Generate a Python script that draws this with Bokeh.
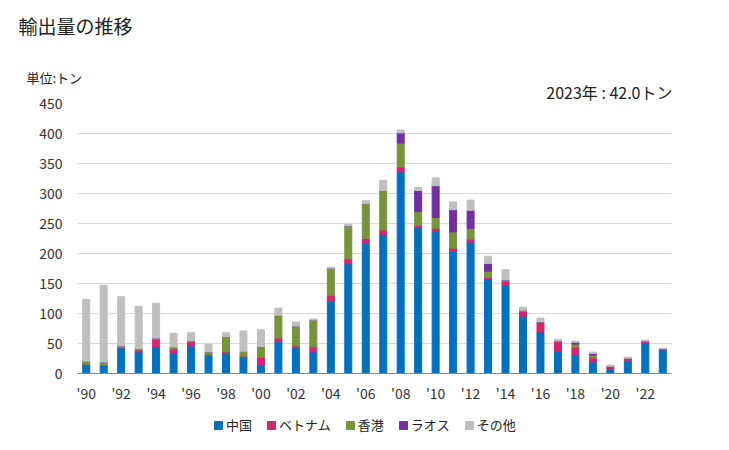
from bokeh.plotting import figure
from bokeh.layouts import column
from bokeh.models import ColumnDataSource, Title, Legend, LegendItem, FixedTicker
from bokeh.embed import file_html
from bokeh.resources import INLINE

years = list(range(1990, 2024))
china   = [15.5, 14, 43, 36, 44, 34, 46, 30, 33, 27, 14, 53, 43, 36, 120.5, 183, 217, 232, 336, 243, 237, 204, 219, 157, 147, 95.5, 69, 37, 32, 19, 7, 22, 50.5, 39.5]
vietnam = [0, 0, 0, 3, 13, 7, 7, 2, 3, 2, 13, 6, 3, 8, 10, 8, 8, 7, 8, 4, 5, 5, 5, 3.5, 7, 8, 17, 17, 12, 7, 5, 3.5, 3.5, 1.5]
hongkong = [5, 5, 3, 2, 2, 3, 2, 4, 25, 8, 18, 38, 33, 45, 45, 55, 58, 66, 40, 23, 18, 27, 18, 10, 2, 2, 0, 0, 5, 5, 0, 0, 0, 0]
laos    = [0, 0, 0, 0, 0, 0, 0, 0, 0, 0, 0, 0, 0, 0, 0, 0, 0, 0, 17, 35, 53, 37, 30, 13, 0, 0, 0, 0, 3, 2.5, 0, 0, 0, 0]
other   = [103, 128, 82, 71, 58, 23, 13, 13, 7, 34, 28, 12, 7, 2, 1.5, 3, 5, 17, 5, 5, 13, 13, 17, 12, 17, 5, 6.5, 3, 2, 2, 2, 1.5, 1.5, 1.0]
series_names = ["中国", "ベトナム", "香港", "ラオス", "その他"]
colors = ["#0070c0", "#d6246e", "#77933c", "#7030a0", "#bfbfbf"]
tick_years = list(range(1990, 2023, 2))
tick_labels = ["'90", "'92", "'94", "'96", "'98", "'00", "'02", "'04", "'06", "'08", "'10", "'12", "'14", "'16", "'18", "'20", "'22"]
y_ticks = [0, 50, 100, 150, 200, 250, 300, 350, 400, 450]
title_text = "輸出量の推移"
unit_text = "単位:トン"
latest_text = "2023年 : 42.0トン"

FONT = "Noto Sans CJK JP"
TXT = "#222222"
stackers = ["s0", "s1", "s2", "s3", "s4"]
src = ColumnDataSource(dict(year=years, s0=china, s1=vietnam, s2=hongkong, s3=laos, s4=other))


def styled(f):
    f.outline_line_color = None
    f.background_fill_color = "white"
    f.border_fill_color = "white"
    return f


# ---- header: main title (frame below it is an empty spacer) ----
head = styled(figure(width=729, height=63, output_backend="svg", toolbar_location=None,
                     x_axis_type=None, y_axis_type=None, x_range=(0, 1), y_range=(0, 1),
                     min_border_left=77, min_border_right=58, min_border_top=0, min_border_bottom=0))
head.title.text = title_text
head.title.align = "left"
head.title.offset = -59
head.title.standoff = 19
head.title.text_font = FONT
head.title.text_font_size = "19px"
head.title.text_font_style = "normal"
head.title.text_color = TXT

# ---- main chart ----
p = styled(figure(width=729, height=342, output_backend="svg", toolbar_location=None,
                  x_range=(1989.5, 2023.5), y_range=(0, 450),
                  min_border_left=77, min_border_right=58, min_border_top=40, min_border_bottom=32))

p.vbar_stack(stackers, x="year", width=0.4, color=colors, source=src)

p.xgrid.grid_line_color = None
p.ygrid.grid_line_color = "#d9d9d9"
p.ygrid.grid_line_width = 1
p.ygrid.ticker = FixedTicker(ticks=y_ticks)

p.xaxis.ticker = FixedTicker(ticks=tick_years)
p.xaxis.major_label_overrides = {y: l for y, l in zip(tick_years, tick_labels)}
p.xaxis.axis_line_color = "#898989"
p.xaxis.major_label_standoff = 9
p.yaxis.ticker = FixedTicker(ticks=y_ticks)
p.yaxis.axis_line_color = None
p.yaxis.major_label_standoff = 15
for ax in (p.xaxis, p.yaxis):
    ax.major_tick_line_color = None
    ax.minor_tick_line_color = None
    ax.major_tick_out = 0
    ax.major_tick_in = 0
    ax.minor_tick_out = 0
    ax.major_label_text_font = FONT
    ax.major_label_text_font_size = "14px"
    ax.major_label_text_color = "#333333"

# latest value (closest to the frame), then the unit note above it
p.add_layout(Title(text=latest_text, align="right", offset=-1, standoff=0,
                   text_font=FONT, text_font_size="16px", text_font_style="normal",
                   text_color=TXT), "above")
p.add_layout(Title(text=unit_text, align="left", offset=-51, standoff=-18,
                   text_font=FONT, text_font_size="13px", text_font_style="normal",
                   text_color=TXT), "above")

# ---- footer: legend (its bars lie outside the visible y range) ----
foot = styled(figure(width=729, height=45, output_backend="svg", toolbar_location=None,
                     x_axis_type=None, y_axis_type=None,
                     x_range=(1989.5, 2023.5), y_range=(1000, 1045),
                     min_border_left=77, min_border_right=58, min_border_top=0, min_border_bottom=0))
foot.xgrid.visible = False
foot.ygrid.visible = False
legend_bars = foot.vbar_stack(stackers, x="year", width=0.4, color=colors, source=src)
legend = Legend(items=[LegendItem(label=n, renderers=[r]) for n, r in zip(series_names, legend_bars)],
                orientation="horizontal", location=(136, 16),
                glyph_width=10, glyph_height=10, label_height=14, label_standoff=3, spacing=14,
                padding=0, margin=0, border_line_color=None, background_fill_alpha=0,
                label_text_font=FONT, label_text_font_size="13px", label_text_color=TXT)
foot.add_layout(legend, "center")

layout = column(head, p, foot, spacing=0)
open("out.html", "w").write(file_html(layout, INLINE))
